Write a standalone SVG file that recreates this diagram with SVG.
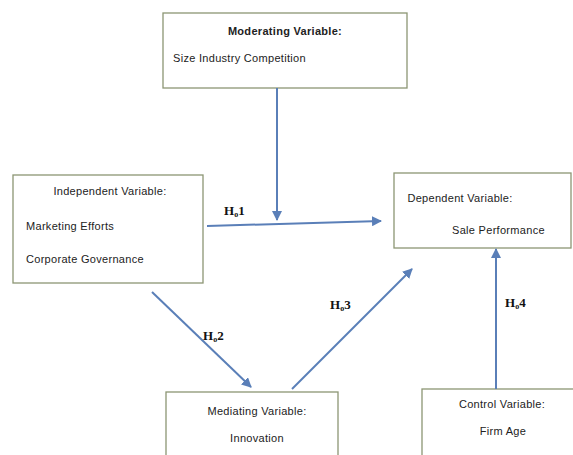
<svg xmlns="http://www.w3.org/2000/svg" width="573" height="455" viewBox="0 0 573 455">
<style>
.box{fill:#ffffff;stroke:#8c9673;stroke-width:1.3}
.t{font-family:"Liberation Sans",Arial,sans-serif;font-size:11px;letter-spacing:0.3px;fill:#222}
.b{font-weight:bold}
.h{font-family:"Liberation Serif","Times New Roman",serif;font-size:13px;font-weight:bold;fill:#111}
.hs{font-size:8px}
.c{stroke:#5a7fb8;stroke-width:2;fill:none;marker-end:url(#ah)}
</style>
<defs>
<marker id="ah" viewBox="0 0 10 10" refX="9" refY="5" markerWidth="5" markerHeight="5" orient="auto" markerUnits="strokeWidth">
<path d="M0,0 L10,5 L0,10 z" fill="#5a7fb8"/>
</marker>
</defs>
<rect width="573" height="455" fill="#ffffff"/>
<g id="moderating">
<rect class="box" x="163" y="13" width="244" height="75"/>
<text class="t b" x="285" y="35" text-anchor="middle">Moderating Variable:</text>
<text class="t" x="173" y="62">Size Industry Competition</text>
</g>
<g id="independent">
<rect class="box" x="13" y="175" width="190" height="108"/>
<text class="t" x="110" y="195" text-anchor="middle">Independent Variable:</text>
<text class="t" x="26" y="230">Marketing Efforts</text>
<text class="t" x="26" y="263">Corporate Governance</text>
</g>
<g id="dependent">
<rect class="box" x="394" y="173" width="177" height="75"/>
<text class="t" x="460" y="202" text-anchor="middle">Dependent Variable:</text>
<text class="t" x="452" y="234">Sale Performance</text>
</g>
<g id="mediating">
<rect class="box" x="166" y="392" width="172" height="70"/>
<text class="t" x="257" y="415" text-anchor="middle">Mediating Variable:</text>
<text class="t" x="257" y="442" text-anchor="middle">Innovation</text>
</g>
<g id="control">
<rect class="box" x="422" y="389" width="160" height="70"/>
<text class="t" x="502" y="408" text-anchor="middle">Control Variable:</text>
<text class="t" x="503" y="435" text-anchor="middle">Firm Age</text>
</g>
<g id="connectors">
<line class="c" x1="277" y1="88" x2="277" y2="220"/>
<line class="c" x1="207" y1="226" x2="381" y2="221"/>
<line class="c" x1="152" y1="292" x2="251" y2="387"/>
<line class="c" x1="292" y1="389" x2="412" y2="269"/>
<line class="c" x1="496" y1="389" x2="496" y2="249"/>
<text class="h" x="224" y="215">H<tspan class="hs" dy="2">o</tspan><tspan dy="-2">1</tspan></text>
<text class="h" x="203" y="340">H<tspan class="hs" dy="2">o</tspan><tspan dy="-2">2</tspan></text>
<text class="h" x="330" y="309">H<tspan class="hs" dy="2">o</tspan><tspan dy="-2">3</tspan></text>
<text class="h" x="505" y="307">H<tspan class="hs" dy="2">o</tspan><tspan dy="-2">4</tspan></text>
</g>
</svg>
